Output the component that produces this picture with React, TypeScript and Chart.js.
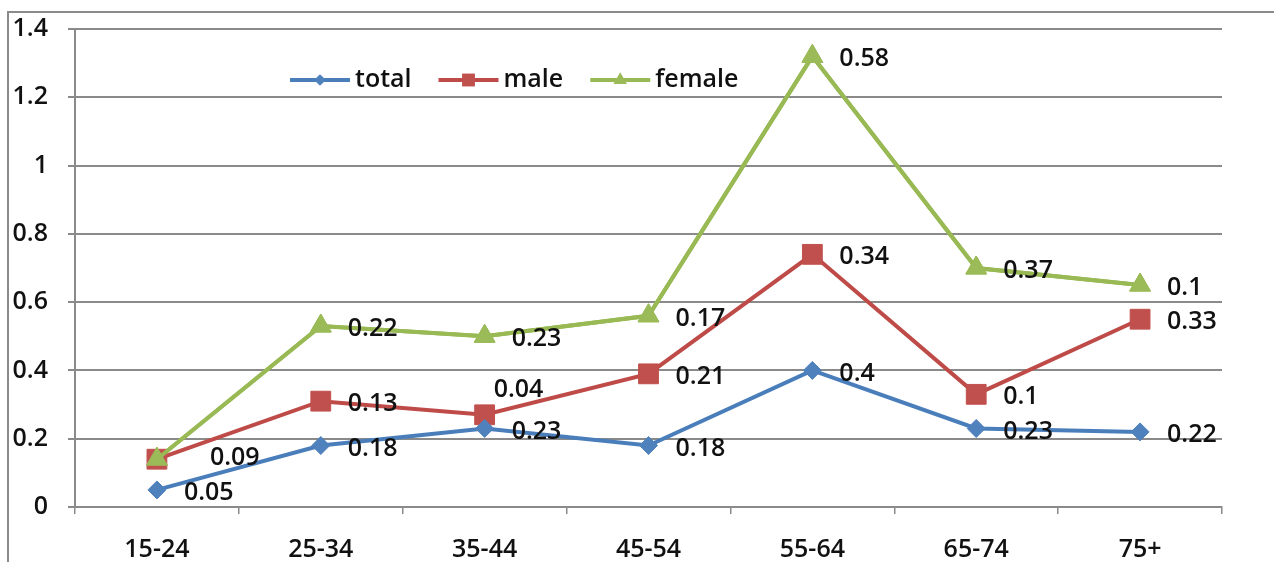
import { useEffect, useRef } from "react";
import { Chart, registerables } from "chart.js";

Chart.register(...registerables);

// Age bands on the category axis
const ageGroups = ["15-24", "25-34", "35-44", "45-54", "55-64", "65-74", "75+"];

// Series values (stacked: male sits on total, female on male)
const totalValues = [0.05, 0.18, 0.23, 0.18, 0.4, 0.23, 0.22];
const maleValues = [0.09, 0.13, 0.04, 0.21, 0.34, 0.1, 0.33];
const femaleValues = [0, 0.22, 0.23, 0.17, 0.58, 0.37, 0.1];

const seriesNames = ["total", "male", "female"];

// Value axis ticks
const yTicks = [0, 0.2, 0.4, 0.6, 0.8, 1, 1.2, 1.4];

const FONT = "'Open Sans', sans-serif";
const WEIGHT = "600";
const TEXT = "#111111";
const GRID = "#8a8a8a";

const lineColors = ["#4a7ebb", "#be4b48", "#98b954"];
const markerColors = ["#4f81bd", "#c0504d", "#9bbb59"];
const markerStyles = ["rectRot", "rect", "triangle"];
const markerRadii = [9, 14, 12];

// Per-label nudges (dataset-index) where the default right-hand placement is changed
const labelNudges: Record<string, [number, number]> = {
  "1-0": [53, -1],
  "1-2": [9, -25],
};

function drawMarker(ctx: CanvasRenderingContext2D, style: string, x: number, y: number, r: number) {
  ctx.beginPath();
  if (style === "rectRot") {
    ctx.moveTo(x, y - r);
    ctx.lineTo(x + r, y);
    ctx.lineTo(x, y + r);
    ctx.lineTo(x - r, y);
  } else if (style === "rect") {
    const s = r * Math.SQRT1_2;
    ctx.rect(x - s, y - s, 2 * s, 2 * s);
  } else {
    const h = (r * 3) / Math.sqrt(3);
    ctx.moveTo(x, y - r);
    ctx.lineTo(x + h / 2, y + r / 2);
    ctx.lineTo(x - h / 2, y + r / 2);
  }
  ctx.closePath();
  ctx.fill();
}

const overlayPlugin = {
  id: "overlay",
  afterDatasetsDraw(chart: any) {
    const ctx: CanvasRenderingContext2D = chart.ctx;
    // keep the female series on top of the others
    const femaleMeta = chart.getDatasetMeta(2);
    if (femaleMeta && !femaleMeta.hidden) femaleMeta.controller.draw();

    ctx.save();
    ctx.font = `${WEIGHT} 25px ${FONT}`;
    ctx.fillStyle = TEXT;
    ctx.textAlign = "left";
    ctx.textBaseline = "middle";
    chart.data.datasets.forEach((ds: any, di: number) => {
      const meta = chart.getDatasetMeta(di);
      meta.data.forEach((pt: any, i: number) => {
        const v = ds.data[i];
        if (!v) return;
        const [dx, dy] = labelNudges[`${di}-${i}`] || [27, 3];
        ctx.fillText(String(v), pt.x + dx, pt.y + dy);
      });
    });
    ctx.restore();
  },
  afterDraw(chart: any) {
    const ctx: CanvasRenderingContext2D = chart.ctx;
    const area = chart.chartArea;
    let x = area.left + 215;
    const y = area.top + 51;
    ctx.save();
    ctx.font = `${WEIGHT} 25px ${FONT}`;
    ctx.textBaseline = "middle";
    ctx.textAlign = "left";
    seriesNames.forEach((name, i) => {
      ctx.strokeStyle = lineColors[i];
      ctx.lineWidth = 4;
      ctx.beginPath();
      ctx.moveTo(x, y);
      ctx.lineTo(x + 60, y);
      ctx.stroke();
      ctx.fillStyle = markerColors[i];
      drawMarker(ctx, markerStyles[i], x + 30, y, markerRadii[i] * 0.65);
      ctx.fillStyle = TEXT;
      ctx.fillText(name, x + 65, y);
      x += 65 + ctx.measureText(name).width + 27;
    });
    ctx.restore();
  },
};

export default function App() {
  const canvasRef = useRef<HTMLCanvasElement | null>(null);

  useEffect(() => {
    if (!canvasRef.current) return;
    Chart.defaults.font.family = FONT;
    const seriesValues = [totalValues, maleValues, femaleValues];
    const tickFont = { size: 25, weight: WEIGHT as any };
    const chart = new Chart(canvasRef.current, {
      type: "line",
      data: {
        labels: ageGroups,
        datasets: seriesNames.map((name, i) => ({
          label: name,
          data: seriesValues[i],
          borderColor: lineColors[i],
          backgroundColor: markerColors[i],
          pointBackgroundColor: markerColors[i],
          pointBorderColor: markerColors[i],
          pointBorderWidth: 1,
          borderWidth: 4,
          tension: 0,
          fill: false,
          pointStyle: markerStyles[i] as any,
          pointRadius: markerRadii[i],
        })),
      },
      options: {
        animation: false,
        responsive: false,
        devicePixelRatio: 1,
        layout: { padding: { top: 29, right: 52, left: 0, bottom: 0 } },
        plugins: {
          legend: { display: false },
          tooltip: { enabled: false },
        },
        scales: {
          x: {
            offset: true,
            grid: {
              offset: true,
              drawOnChartArea: false,
              drawTicks: true,
              tickLength: 7,
              color: GRID,
              lineWidth: 1.5,
            },
            border: { color: GRID, width: 2 },
            ticks: {
              color: TEXT,
              font: tickFont,
              padding: 21,
              maxRotation: 0,
            },
            afterFit(scale: any) {
              scale.height = 55;
              scale.paddingLeft = 0;
              scale.paddingRight = 0;
            },
          },
          y: {
            stacked: true,
            min: yTicks[0],
            max: yTicks[yTicks.length - 1],
            afterBuildTicks(scale: any) {
              scale.ticks = yTicks.map((v) => ({ value: v }));
            },
            ticks: {
              color: TEXT,
              font: tickFont,
              padding: 20,
              callback: (v: any) => String(Number(Number(v).toFixed(1))),
            },
            grid: { color: GRID, lineWidth: 2, tickLength: 7 },
            border: { color: GRID, width: 2 },
            afterFit(scale: any) {
              scale.width = 75;
              scale.paddingTop = 0;
              scale.paddingBottom = 0;
            },
          },
        },
      },
      plugins: [overlayPlugin],
    });
    return () => chart.destroy();
  }, []);

  return (
    <div style={{ position: "fixed", left: 0, top: 0, width: 1274, height: 562, background: "#ffffff", overflow: "hidden" }}>
      <div
        style={{
          position: "absolute",
          left: 7,
          top: 11,
          width: 1400,
          height: 700,
          borderLeft: "2px solid #8a8a8a",
          borderTop: "2px solid #8a8a8a",
        }}
      />
      <canvas ref={canvasRef} width={1274} height={562} style={{ position: "absolute", left: 0, top: 0 }} />
    </div>
  );
}
